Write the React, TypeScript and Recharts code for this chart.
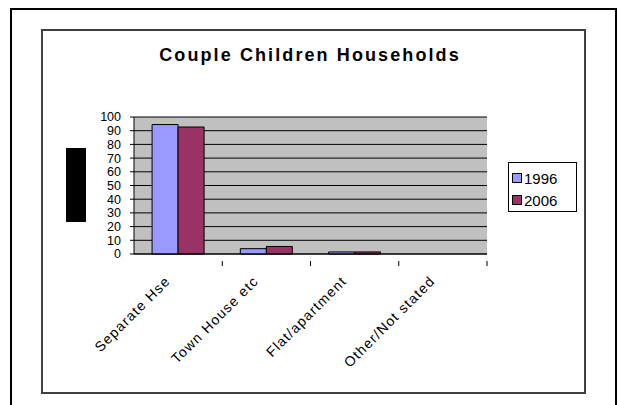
import React from 'react';
import { BarChart, Bar, XAxis, YAxis, CartesianGrid } from 'recharts';

const categories = ['Separate Hse', 'Town House etc', 'Flat/apartment', 'Other/Not stated'];
const values1996 = [94.5, 3.9, 1.5, 0];
const values2006 = [92.7, 5.5, 1.5, 0];
const yTicks = [0, 10, 20, 30, 40, 50, 60, 70, 80, 90, 100];
const seriesNames = ['1996', '2006'];
const seriesColors = ['#9999FF', '#993366'];

const chartData = categories.map((name, i) => ({
    name,
    y1996: values1996[i],
    y2006: values2006[i],
}));

const PLOT_LEFT = 134;
const PLOT_RIGHT = 487;
const BAND = (PLOT_RIGHT - PLOT_LEFT) / categories.length;

const font = 'Arial, "Liberation Sans", sans-serif';

function CategoryTick(props: any) {
    const { x, y, payload } = props;
    const tx = x - 7;
    const ty = y + 20;
    return (
        <g>
            <line x1={x + BAND / 2} y1={y - 1} x2={x + BAND / 2} y2={y + 4} stroke="#000" />
            <text
                x={tx}
                y={ty}
                textAnchor="end"
                fontSize={14}
                letterSpacing={1.2}
                fontFamily={font}
                fill="#000"
                transform={`rotate(-45, ${tx}, ${ty})`}
            >
                {payload.value}
            </text>
        </g>
    );
}

function LegendBox() {
    return (
        <div
            style={{
                position: 'absolute',
                left: 508,
                top: 162,
                border: '1px solid #000',
                width: 69,
                height: 50,
                boxSizing: 'border-box',
                padding: '5px 0 0 3px',
                fontFamily: font,
                fontSize: 15,
                background: '#fff',
            }}
        >
            {seriesNames.map((label, i) => (
                <div key={label} style={{ display: 'flex', alignItems: 'center', height: 20, marginBottom: 2 }}>
                    <span
                        style={{
                            display: 'inline-block',
                            width: 8,
                            height: 8,
                            border: '1px solid #000',
                            background: seriesColors[i],
                            marginRight: 2,
                        }}
                    />
                    <span>{label}</span>
                </div>
            ))}
        </div>
    );
}

export default function App() {
    return (
        <div style={{ position: 'absolute', left: 0, top: 0, width: 618, height: 405, background: '#fff', overflow: 'hidden' }}>
            <div style={{ position: 'absolute', left: 10, top: 8, width: 603, height: 420, border: '2px solid #000' }} />
            <div style={{ position: 'absolute', left: 41, top: 29, width: 541, height: 361, border: '2px solid #404040' }} />
            <div
                style={{
                    position: 'absolute',
                    left: 0,
                    top: 45,
                    width: 620,
                    textAlign: 'center',
                    fontFamily: font,
                    fontWeight: 'bold',
                    fontSize: 18,
                    letterSpacing: 2.1,
                }}
            >
                Couple Children Households
            </div>
            <div style={{ position: 'absolute', left: 66, top: 148, width: 20, height: 74, background: '#000' }} />
            <div style={{ position: 'absolute', left: 0, top: 0 }}>
                <BarChart
                    width={618}
                    height={405}
                    data={chartData}
                    margin={{ top: 117, right: 618 - PLOT_RIGHT, left: 0, bottom: 0 }}
                    barCategoryGap="20.5%"
                    barGap={0}
                >
                    <CartesianGrid fill="#C0C0C0" stroke="#000" vertical={false} />
                    <XAxis
                        dataKey="name"
                        height={151}
                        interval={0}
                        tickLine={false}
                        axisLine={{ stroke: '#000' }}
                        tick={<CategoryTick />}
                    />
                    <YAxis
                        width={PLOT_LEFT}
                        domain={[0, 100]}
                        ticks={yTicks}
                        interval={0}
                        tickSize={4}
                        tickMargin={9}
                        axisLine={{ stroke: '#000' }}
                        tickLine={{ stroke: '#000' }}
                        tick={{ fill: '#000', fontSize: 12.5, fontFamily: font }}
                    />
                    <YAxis
                        yAxisId="frame"
                        orientation="right"
                        width={0}
                        domain={[0, 100]}
                        tick={false}
                        tickLine={false}
                        axisLine={{ stroke: '#808080' }}
                    />
                    <Bar dataKey="y1996" name={seriesNames[0]} fill={seriesColors[0]} stroke="#000" isAnimationActive={false} />
                    <Bar dataKey="y2006" name={seriesNames[1]} fill={seriesColors[1]} stroke="#000" isAnimationActive={false} />
                </BarChart>
            </div>
            <LegendBox />
        </div>
    );
}
